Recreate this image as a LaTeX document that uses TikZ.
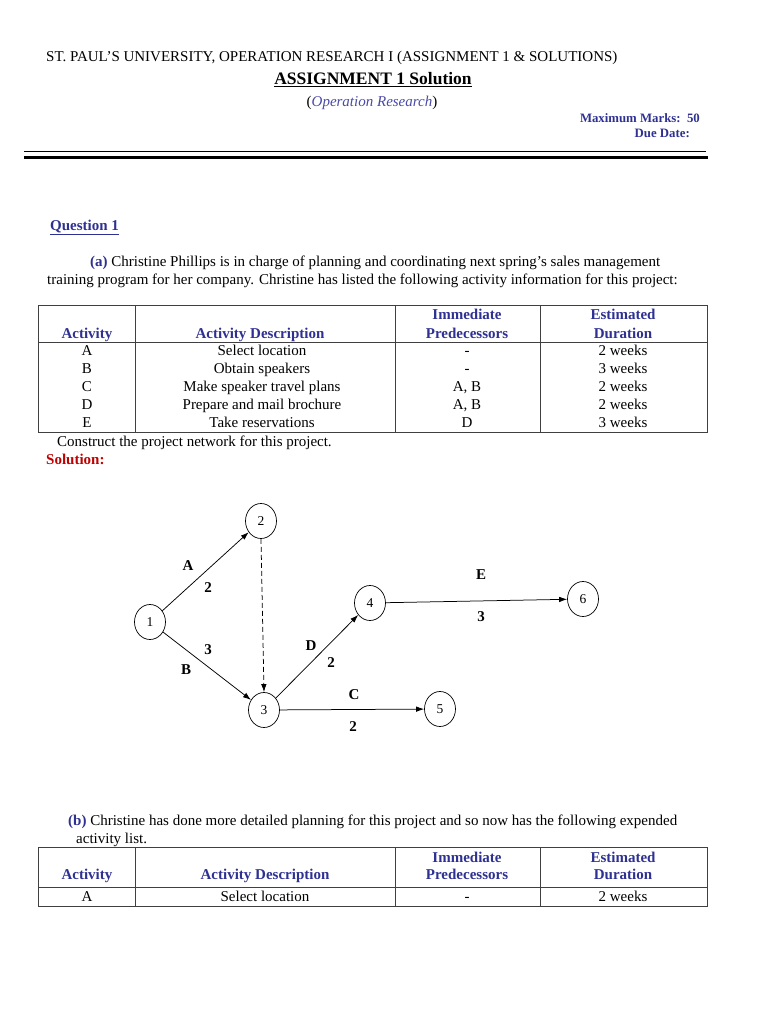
\documentclass[tikz,border=0pt]{standalone}
\usepackage{fontspec}
\setmainfont{Liberation Serif}
\usetikzlibrary{shapes.geometric,arrows.meta}
\definecolor{hblue}{HTML}{2E3192}
\definecolor{iblue}{HTML}{4A4AA8}
\definecolor{sred}{HTML}{C00000}
\begin{document}
\begin{tikzpicture}[x=1pt,y=-1pt,
  txt/.style={inner sep=0pt, text height=10pt, text depth=3pt, yshift=-1.5pt, font=\fontsize{15}{17}\selectfont},
  hd/.style={txt, font=\fontsize{15}{17}\selectfont\bfseries, text=hblue},
  sm/.style={inner sep=0pt, text height=9pt, text depth=2.5pt, yshift=-1pt, font=\fontsize{12.8}{14}\selectfont\bfseries, text=hblue},
  ev/.style={draw, ellipse, minimum width=31pt, minimum height=35pt, inner sep=0pt, line width=0.7pt, font=\fontsize{13.5}{15}\selectfont},
  act/.style={-{Latex[length=8pt,width=5.5pt]}, line width=0.75pt},
  lbl/.style={inner sep=0pt, yshift=-1pt, font=\fontsize{15}{17}\selectfont\bfseries},
  grid/.style={draw=black!75, line width=0.8pt}]
\useasboundingbox (0,0) rectangle (768,1024);
\fill[white] (0,0) rectangle (768,1024);

% header
\node[txt, anchor=west] (uni) at (46,57) {ST. PAUL'S UNIVERSITY, OPERATION RESEARCH I (ASSIGNMENT 1 \& SOLUTIONS)};
\node[txt, font=\fontsize{17.5}{19}\selectfont\bfseries] (title) at (373,80) {\underline{ASSIGNMENT 1 Solution}};
\node[txt] (sub) at (372,102) {(\textcolor{iblue}{\itshape Operation Research})};
\node[sm, anchor=east] (marks) at (700,118) {Maximum Marks:\ \ 50};
\node[sm, anchor=east] (due) at (690,133) {Due Date:};
\draw[line width=0.8pt] (24,151) -- (706,151);
\draw[line width=3pt] (24,157.5) -- (708,157.5);

% question 1
\node[txt, anchor=west, font=\fontsize{15}{17}\selectfont\bfseries, text=hblue] (q1) at (50,225) {\underline{Question 1}};
\node[txt, anchor=west] (pa1) at (90,261) {\textcolor{hblue}{\bfseries(a)} Christine Phillips is in charge of planning and coordinating next spring's sales management};
\node[txt, anchor=west] (pa2) at (47,279) {training program for her company. Christine has listed the following activity information for this project:};

% table 1
\draw[grid] (38,305) rectangle (707,432);
\draw[grid] (38,342) -- (707,342);
\foreach \x in {135,395,540} \draw[grid] (\x,305) -- (\x,432);
\node[hd] (t1h1) at (87,333) {Activity};
\node[hd] (t1h2) at (260,333) {Activity Description};
\node[hd] (t1h3a) at (467,314) {Immediate};
\node[hd] (t1h3b) at (467,333) {Predecessors};
\node[hd] (t1h4a) at (623,314) {Estimated};
\node[hd] (t1h4b) at (623,333) {Duration};
\foreach \a/\d/\p/\w [count=\i] in {A/Select location/-/2 weeks, B/Obtain speakers/-/3 weeks, C/Make speaker travel plans/{A, B}/2 weeks, D/Prepare and mail brochure/{A, B}/2 weeks, E/Take reservations/D/3 weeks}{
  \node[txt] (r\i a) at (87,333+17.8*\i) {\a};
  \node[txt] (r\i d) at (262,333+17.8*\i) {\d};
  \node[txt] (r\i p) at (467,333+17.8*\i) {\p};
  \node[txt] (r\i w) at (623,333+17.8*\i) {\w};
}
\node[txt, anchor=west] (constr) at (57,441) {Construct the project network for this project.};
\node[txt, anchor=west, font=\fontsize{15}{17}\selectfont\bfseries, text=sred] (sol) at (46,459) {Solution:};

% network
\node[ev] (n1) at (150,622) {1};
\node[ev] (n2) at (261,521) {2};
\node[ev] (n3) at (264,710) {3};
\node[ev] (n4) at (370,603) {4};
\node[ev] (n5) at (440,709) {5};
\node[ev] (n6) at (583,599) {6};
\draw[act] (n1) -- (n2);
\draw[act] (n1) -- (n3);
\draw[act, dash pattern=on 5pt off 3pt] (n2.south) -- (n3.north);
\draw[act] (n3) -- (n4);
\draw[act] (n3) -- (n5);
\draw[act] (n4) -- (n6);
\node[lbl] (la) at (188,565) {A};
\node[lbl] (l2a) at (208,587) {2};
\node[lbl] (l3b) at (208,649) {3};
\node[lbl] (lb) at (186,669) {B};
\node[lbl] (ld) at (311,645) {D};
\node[lbl] (l2d) at (331,662) {2};
\node[lbl] (le) at (481,574) {E};
\node[lbl] (l3e) at (481,616) {3};
\node[lbl] (lc) at (354,694) {C};
\node[lbl] (l2c) at (353,726) {2};

% part b
\node[txt, anchor=west] (pb1) at (68,820) {\textcolor{hblue}{\bfseries(b)} Christine has done more detailed planning for this project and so now has the following expended};
\node[txt, anchor=west] (pb2) at (76,838) {activity list.};

% table 2
\draw[grid] (38,847) rectangle (707,906);
\draw[grid] (38,887) -- (707,887);
\foreach \x in {135,395,540} \draw[grid] (\x,847) -- (\x,906);
\node[hd] (t2h1) at (87,874) {Activity};
\node[hd] (t2h2) at (265,874) {Activity Description};
\node[hd] (t2h3a) at (467,857) {Immediate};
\node[hd] (t2h3b) at (467,874) {Predecessors};
\node[hd] (t2h4a) at (623,857) {Estimated};
\node[hd] (t2h4b) at (623,874) {Duration};
\node[txt] (s1a) at (87,896) {A};
\node[txt] (s1d) at (265,896) {Select location};
\node[txt] (s1p) at (467,896) {-};
\node[txt] (s1w) at (623,896) {2 weeks};
\end{tikzpicture}
\end{document}
